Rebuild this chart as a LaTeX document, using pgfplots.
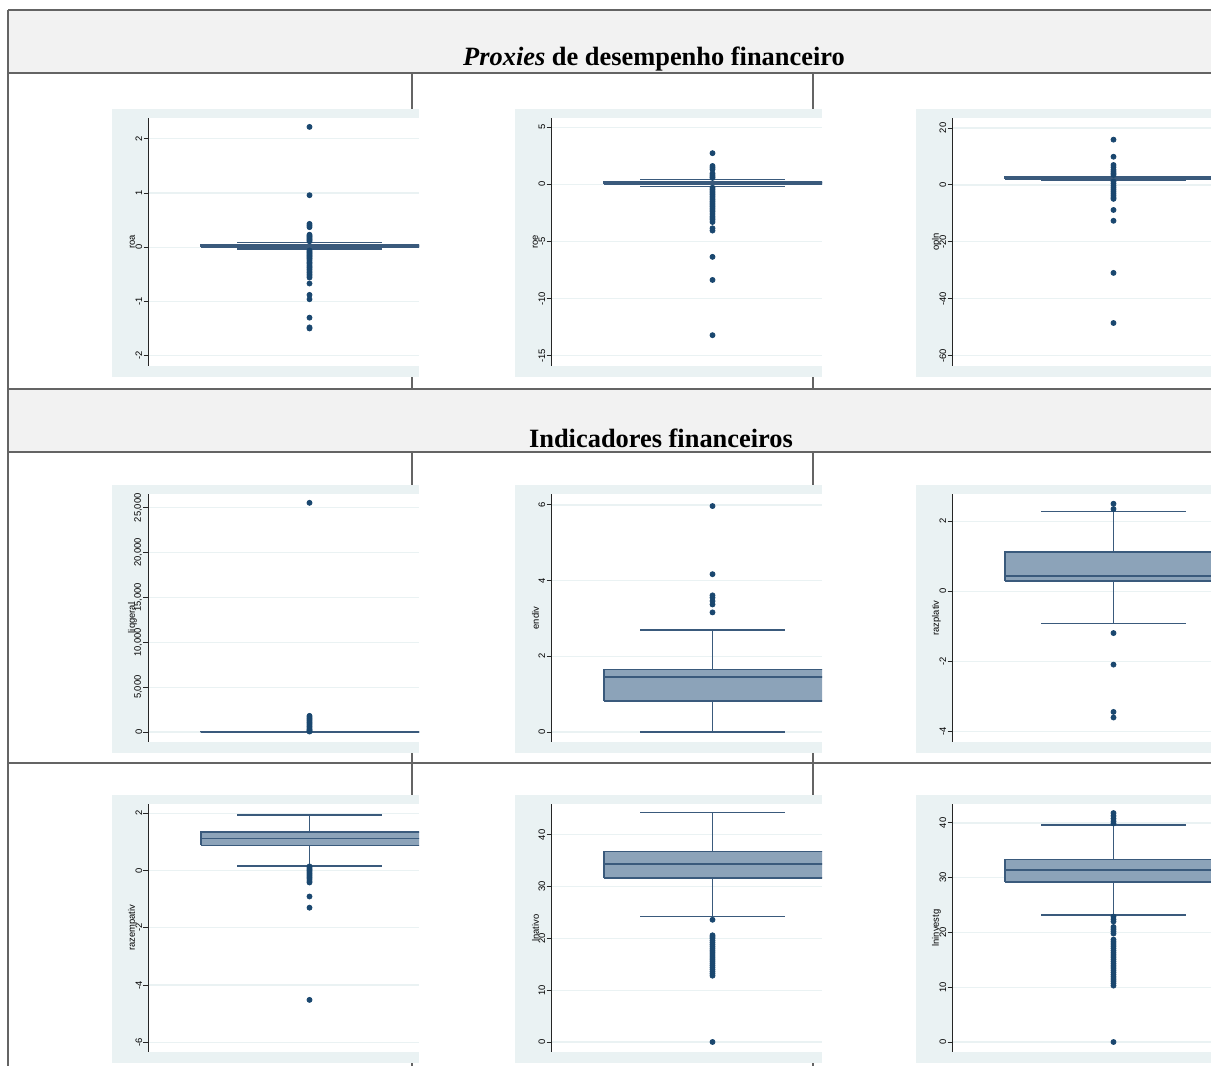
\documentclass[border=0pt]{standalone}
\usepackage{pgfplots}
\pgfplotsset{compat=1.18}
\usepackage{fontspec}
\setmainfont{Liberation Serif}
\newfontfamily\arial{Liberation Sans}
\definecolor{stbg}{HTML}{EAF2F3}
\definecolor{stgrid}{HTML}{EAF2F3}
\definecolor{stnavy}{HTML}{1A476F}
\definecolor{boxfill}{HTML}{8CA3B9}
\definecolor{boxline}{HTML}{3A5A7C}
\definecolor{tframe}{HTML}{646464}
\definecolor{hdr}{HTML}{F2F2F2}
\pgfplotsset{
  stg/.style={
    scale only axis, width=135.25pt, height=123.7pt,
    xmin=0, xmax=270.5,
    axis x line=none, axis y line*=left,
    axis line style={draw=black!85, line width=0.45pt},
    axis background/.style={fill=white},
    tick align=outside, major tick length=2.5pt,
    tick style={draw=black!85, line width=0.45pt},
    ymajorgrids, grid style={draw=stgrid, line width=0.6pt},
    scaled y ticks=false,
    /pgf/number format/assume math mode=true,
    yticklabel style={rotate=90, anchor=south, inner sep=0.5pt, font=\arial\fontsize{4.7}{5.5}\selectfont},
    every axis y label/.style={at={(axis description cs:-0.0592,0.5)}, rotate=90, anchor=center, font=\arial\fontsize{4.7}{5.5}\selectfont},
    clip=true,
  },
  bx/.style={draw=boxline, fill=boxfill, line width=0.75pt},
  wl/.style={draw=boxline, line width=0.75pt},
  ol/.style={only marks, mark=*, mark size=1.25pt, mark options={fill=stnavy, draw=stnavy}},
}
\begin{document}
\begin{tikzpicture}
\useasboundingbox (0,0) rectangle (605.5pt,-533pt);
\clip (0,0) rectangle (605.5pt,-533pt);
\begin{scope}[x=0.5pt,y=-0.5pt]
  \fill[hdr] (8,10) rectangle (1300,73);
  \fill[hdr] (8,389) rectangle (1300,452);
  \draw[tframe, line width=1pt] (8,10) -- (1300,10);
  \draw[tframe, line width=1pt] (8,73) -- (1300,73);
  \draw[tframe, line width=1pt] (8,389) -- (1300,389);
  \draw[tframe, line width=1pt] (8,452) -- (1300,452);
  \draw[tframe, line width=1pt] (8,763) -- (1300,763);
  \draw[tframe, line width=1pt] (8,10) -- (8,1080);
  \draw[tframe, line width=1pt] (412,73) -- (412,389);
  \draw[tframe, line width=1pt] (813,73) -- (813,389);
  \draw[tframe, line width=1pt] (412,452) -- (412,1080);
  \draw[tframe, line width=1pt] (813,452) -- (813,1080);
  \node[font=\bfseries\fontsize{13.2}{16}\selectfont, anchor=base, inner sep=0pt] at (654,65) {\textit{Proxies} de desempenho financeiro};
  \node[font=\bfseries\fontsize{13.2}{16}\selectfont, anchor=base, inner sep=0pt] at (661,447) {Indicadores financeiros};
  \foreach \L in {112,515,916}{
    \foreach \T in {109,485,795}{
      \fill[stbg] (\L,\T) rectangle ++(307,268);
    }
  }
\end{scope}

\begin{axis}[stg, at={(74.25pt,-182.85pt)}, anchor=south west,
  ymin=-2.187, ymax=2.379, ytick={-2,-1,0,1,2}, ylabel={roa}]
\addplot[bx] coordinates {(52.5,0.0) (300,0.0) (300,0.045) (52.5,0.045) (52.5,0.0)};
\addplot[wl] coordinates {(52.5,0.02) (300,0.02)};
\addplot[wl] coordinates {(161,0.045) (161,0.085)};
\addplot[wl] coordinates {(88.5,0.085) (233.5,0.085)};
\addplot[wl] coordinates {(161,0.0) (161,-0.03)};
\addplot[wl] coordinates {(88.5,-0.03) (233.5,-0.03)};
\addplot[ol] coordinates {(161,2.22) (161,0.96) (161,0.43) (161,0.40) (161,0.37) (161,0.23) (161,0.21) (161,0.19) (161,0.17) (161,0.15) (161,0.13) (161,0.11)
 (161,-0.06) (161,-0.08) (161,-0.10) (161,-0.12) (161,-0.14) (161,-0.16) (161,-0.18) (161,-0.20) (161,-0.22) (161,-0.25) (161,-0.28) (161,-0.30) (161,-0.33)
 (161,-0.36) (161,-0.38) (161,-0.41) (161,-0.44) (161,-0.47) (161,-0.50) (161,-0.53) (161,-0.56) (161,-0.67) (161,-0.88) (161,-0.96) (161,-1.30) (161,-1.48) (161,-1.50)};
\end{axis}

\begin{axis}[stg, at={(275.75pt,-182.85pt)}, anchor=south west,
  ymin=-15.87, ymax=5.77, ytick={-15,-10,-5,0,5}, ylabel={roe}]
\addplot[bx] coordinates {(52.5,-0.02) (300,-0.02) (300,0.22) (52.5,0.22) (52.5,-0.02)};
\addplot[wl] coordinates {(52.5,0.1) (300,0.1)};
\addplot[wl] coordinates {(161,0.22) (161,0.4)};
\addplot[wl] coordinates {(88.5,0.4) (233.5,0.4)};
\addplot[wl] coordinates {(161,-0.02) (161,-0.2)};
\addplot[wl] coordinates {(88.5,-0.2) (233.5,-0.2)};
\addplot[ol] coordinates {(161,2.72) (161,1.6) (161,1.45) (161,1.3) (161,0.95) (161,0.8) (161,0.65) (161,0.55)
 (161,-0.3) (161,-0.45) (161,-0.6) (161,-0.75) (161,-0.9) (161,-1.05) (161,-1.2) (161,-1.35) (161,-1.5) (161,-1.65) (161,-1.8)
 (161,-1.95) (161,-2.1) (161,-2.25) (161,-2.4) (161,-2.6) (161,-2.8) (161,-2.95) (161,-3.1) (161,-3.3) (161,-3.85) (161,-4.05)
 (161,-6.35) (161,-8.37) (161,-13.2)};
\end{axis}

\begin{axis}[stg, at={(476.25pt,-182.85pt)}, anchor=south west,
  ymin=-63.5, ymax=23.4, ytick={-60,-40,-20,0,20}, ylabel={opln}]
\addplot[bx] coordinates {(52.5,2.0) (300,2.0) (300,2.7) (52.5,2.7) (52.5,2.0)};
\addplot[wl] coordinates {(52.5,2.35) (300,2.35)};
\addplot[wl] coordinates {(161,2.7) (161,3.0)};
\addplot[wl] coordinates {(88.5,3.0) (233.5,3.0)};
\addplot[wl] coordinates {(161,2.0) (161,1.7)};
\addplot[wl] coordinates {(88.5,1.7) (233.5,1.7)};
\addplot[ol] coordinates {(161,15.9) (161,9.9) (161,7.0) (161,6.2) (161,5.3) (161,4.6) (161,4.0) (161,3.5) (161,1.2) (161,0.5)
 (161,-0.3) (161,-1.0) (161,-1.7) (161,-2.4) (161,-3.1) (161,-3.8) (161,-4.5) (161,-4.9) (161,-8.8) (161,-12.6) (161,-30.9) (161,-48.5)};
\end{axis}

\begin{axis}[stg, at={(74.25pt,-370.85pt)}, anchor=south west,
  ymin=-1081, ymax=26500, ytick={0,5000,10000,15000,20000,25000}, ylabel={liqgeral},
  y tick label style={/pgf/number format/.cd, fixed, 1000 sep={,}}]
\addplot[bx] coordinates {(52.5,0.5) (300,0.5) (300,1.6) (52.5,1.6) (52.5,0.5)};
\addplot[wl] coordinates {(52.5,1.0) (300,1.0)};
\addplot[wl] coordinates {(161,1.6) (161,3)};
\addplot[wl] coordinates {(88.5,3) (233.5,3)};
\addplot[wl] coordinates {(161,0.5) (161,0)};
\addplot[wl] coordinates {(88.5,0) (233.5,0)};
\addplot[ol] coordinates {(161,25550) (161,1800) (161,1650) (161,1500) (161,1350) (161,1200) (161,1050) (161,900) (161,750)
 (161,600) (161,450) (161,300) (161,200) (161,100) (161,50)};
\end{axis}

\begin{axis}[stg, at={(275.75pt,-370.85pt)}, anchor=south west,
  ymin=-0.256, ymax=6.28, ytick={0,2,4,6}, ylabel={endiv}]
\addplot[bx] coordinates {(52.5,0.82) (300,0.82) (300,1.655) (52.5,1.655) (52.5,0.82)};
\addplot[wl] coordinates {(52.5,1.45) (300,1.45)};
\addplot[wl] coordinates {(161,1.655) (161,2.70)};
\addplot[wl] coordinates {(88.5,2.70) (233.5,2.70)};
\addplot[wl] coordinates {(161,0.82) (161,0)};
\addplot[wl] coordinates {(88.5,0) (233.5,0)};
\addplot[ol] coordinates {(161,5.97) (161,4.17) (161,3.61) (161,3.55) (161,3.46) (161,3.37) (161,3.16)};
\end{axis}

\begin{axis}[stg, at={(476.25pt,-370.85pt)}, anchor=south west,
  ymin=-4.29, ymax=2.77, ytick={-4,-2,0,2}, ylabel={razplativ}]
\addplot[bx] coordinates {(52.5,0.29) (300,0.29) (300,1.12) (52.5,1.12) (52.5,0.29)};
\addplot[wl] coordinates {(52.5,0.445) (300,0.445)};
\addplot[wl] coordinates {(161,1.12) (161,2.28)};
\addplot[wl] coordinates {(88.5,2.28) (233.5,2.28)};
\addplot[wl] coordinates {(161,0.29) (161,-0.91)};
\addplot[wl] coordinates {(88.5,-0.91) (233.5,-0.91)};
\addplot[ol] coordinates {(161,2.50) (161,2.35) (161,-1.19) (161,-2.09) (161,-3.44) (161,-3.60)};
\end{axis}

\begin{axis}[stg, at={(74.25pt,-525.85pt)}, anchor=south west,
  ymin=-6.33, ymax=2.31, ytick={-6,-4,-2,0,2}, ylabel={razempativ}]
\addplot[bx] coordinates {(52.5,0.88) (300,0.88) (300,1.34) (52.5,1.34) (52.5,0.88)};
\addplot[wl] coordinates {(52.5,1.12) (300,1.12)};
\addplot[wl] coordinates {(161,1.34) (161,1.93)};
\addplot[wl] coordinates {(88.5,1.93) (233.5,1.93)};
\addplot[wl] coordinates {(161,0.88) (161,0.16)};
\addplot[wl] coordinates {(88.5,0.16) (233.5,0.16)};
\addplot[ol] coordinates {(161,0.14) (161,0.09) (161,0.04) (161,0.0) (161,-0.05) (161,-0.1) (161,-0.15) (161,-0.2) (161,-0.25)
 (161,-0.3) (161,-0.37) (161,-0.42) (161,-0.91) (161,-1.30) (161,-4.52)};
\end{axis}

\begin{axis}[stg, at={(275.75pt,-525.85pt)}, anchor=south west,
  ymin=-1.88, ymax=45.9, ytick={0,10,20,30,40}, ylabel={lnativo}]
\addplot[bx] coordinates {(52.5,31.7) (300,31.7) (300,36.8) (52.5,36.8) (52.5,31.7)};
\addplot[wl] coordinates {(52.5,34.4) (300,34.4)};
\addplot[wl] coordinates {(161,36.8) (161,44.3)};
\addplot[wl] coordinates {(88.5,44.3) (233.5,44.3)};
\addplot[wl] coordinates {(161,31.7) (161,24.2)};
\addplot[wl] coordinates {(88.5,24.2) (233.5,24.2)};
\addplot[ol] coordinates {(161,23.6) (161,20.6) (161,20.3) (161,20.0) (161,19.6) (161,19.2) (161,18.8) (161,18.4) (161,18.0)
 (161,17.6) (161,17.2) (161,16.8) (161,16.4) (161,16.0) (161,15.6) (161,15.2) (161,14.8) (161,14.4) (161,14.0) (161,13.6)
 (161,13.2) (161,12.8) (161,0)};
\end{axis}

\begin{axis}[stg, at={(476.25pt,-525.85pt)}, anchor=south west,
  ymin=-1.77, ymax=43.4, ytick={0,10,20,30,40}, ylabel={lninvestg}]
\addplot[bx] coordinates {(52.5,29.2) (300,29.2) (300,33.35) (52.5,33.35) (52.5,29.2)};
\addplot[wl] coordinates {(52.5,31.4) (300,31.4)};
\addplot[wl] coordinates {(161,33.35) (161,39.6)};
\addplot[wl] coordinates {(88.5,39.6) (233.5,39.6)};
\addplot[wl] coordinates {(161,29.2) (161,23.2)};
\addplot[wl] coordinates {(88.5,23.2) (233.5,23.2)};
\addplot[ol] coordinates {(161,41.8) (161,41.3) (161,40.8) (161,40.3) (161,39.9) (161,22.9) (161,22.4) (161,22.0) (161,21.0)
 (161,20.6) (161,20.2) (161,19.8) (161,18.7) (161,18.3) (161,17.9) (161,17.5) (161,17.1) (161,16.7) (161,16.3) (161,15.9)
 (161,15.5) (161,15.1) (161,14.7) (161,14.3) (161,13.9) (161,13.5) (161,13.1) (161,12.7) (161,12.3) (161,11.9) (161,11.5)
 (161,11.1) (161,10.7) (161,10.3) (161,0)};
\end{axis}
\end{tikzpicture}
\end{document}
